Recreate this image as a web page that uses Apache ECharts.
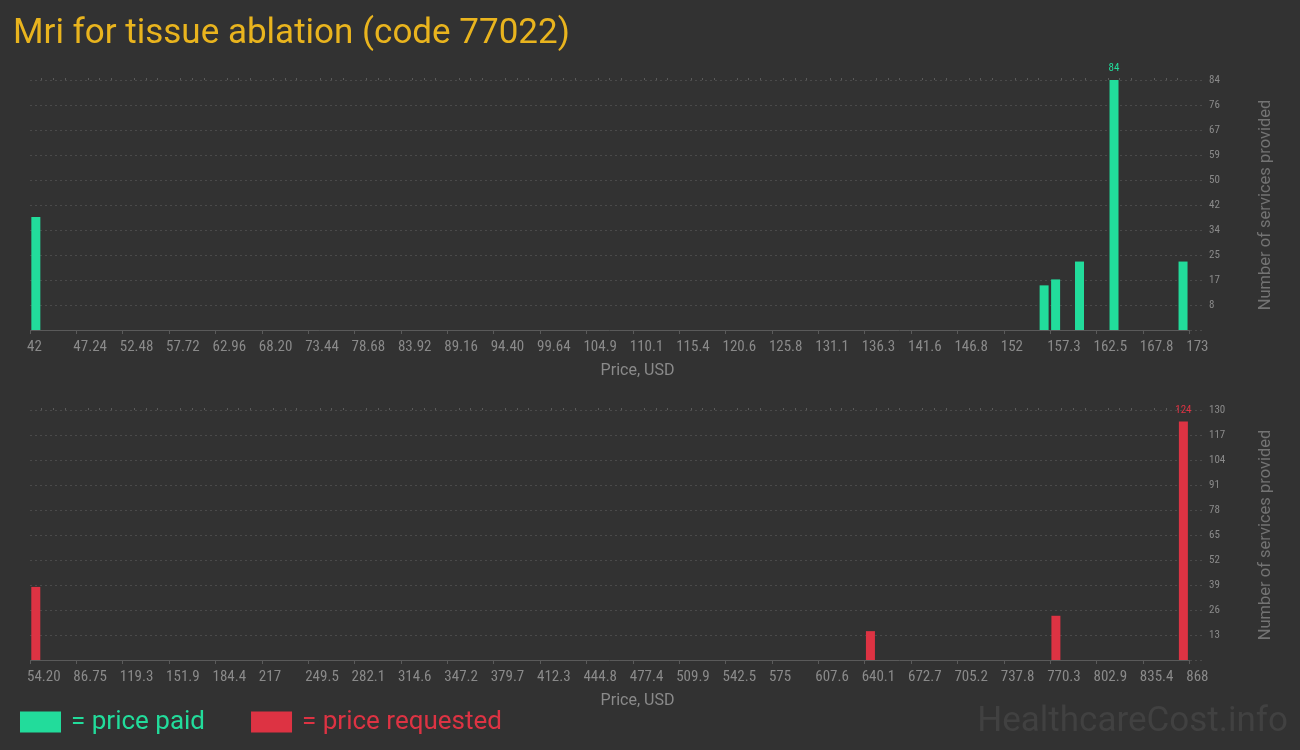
<!DOCTYPE html>
<html>
<head>
<meta charset="utf-8">
<title>Mri for tissue ablation (code 77022)</title>
<script src="https://cdn.jsdelivr.net/npm/echarts@6/dist/echarts.min.js"></script>
<style>
  html, body { margin: 0; padding: 0; background: #323232; }
  #chart { width: 1300px; height: 750px; }
</style>
</head>
<body>
<div id="chart"></div>
<script>
// Price axis tick labels (26 ticks, evenly spaced)
const paidTickLabels = ["42", "47.24", "52.48", "57.72", "62.96", "68.20", "73.44", "78.68", "83.92", "89.16",
  "94.40", "99.64", "104.9", "110.1", "115.4", "120.6", "125.8", "131.1", "136.3", "141.6",
  "146.8", "152", "157.3", "162.5", "167.8", "173"];
const requestedTickLabels = ["54.20", "86.75", "119.3", "151.9", "184.4", "217", "249.5", "282.1", "314.6", "347.2",
  "379.7", "412.3", "444.8", "477.4", "509.9", "542.5", "575", "607.6", "640.1", "672.7",
  "705.2", "737.8", "770.3", "802.9", "835.4", "868"];

// Price paid: bin price (USD) and number of services
const paidPrices = [42.66, 156.6, 157.9, 160.6, 164.5, 172.3];
const paidCounts = [38, 15, 17, 23, 84, 23];

// Price requested: bin price (USD) and number of services
const requestedPrices = [58.27, 644.2, 774.4, 863.9];
const requestedCounts = [38, 15, 23, 124];

// Upper bound of each count axis
const paidCountMax = 84;
const requestedCountMax = 130;

const GREEN = '#22dc9b';
const RED = '#dd3343';
const AXIS_GREY = '#5a5a5a';
const LABEL_GREY = '#8a8a8a';
const NARROW = "'Roboto Condensed', 'Liberation Sans Narrow', 'DejaVu Sans Condensed', Roboto, sans-serif";

// The price axis runs in tick units (0..25); the grid reaches a bit past the last tick
const X_END = 25.34;
const majorTicks = Array.from({ length: 26 }, (_, i) => i);
const minorTicks = [];
for (let i = 0; i < 25; i++) for (let k = 1; k < 4; k++) minorTicks.push(i + k / 4);

function priceScale(labels) {
  const lo = parseFloat(labels[0]);
  const step = (parseFloat(labels[labels.length - 1]) - lo) / (labels.length - 1);
  return p => (p - lo) / step;
}

function priceAxes(gridIndex, labels) {
  return [{
    type: 'value', gridIndex, min: 0, max: X_END,
    axisLine: { show: false },
    splitLine: { show: false },
    axisTick: { show: true, customValues: majorTicks, length: 4, lineStyle: { color: AXIS_GREY } },
    axisLabel: {
      customValues: majorTicks,
      formatter: v => labels[Math.round(v)],
      align: 'left', margin: 10, padding: [0, 0, 0, -3],
      color: LABEL_GREY, fontFamily: NARROW, fontSize: 15
    },
    name: 'Price, USD', nameLocation: 'middle', nameGap: 33,
    nameTextStyle: { color: LABEL_GREY, fontFamily: 'Roboto', fontSize: 16, padding: [0, 0, 0, 40] }
  }, {
    type: 'value', gridIndex, min: 0, max: X_END,
    axisLine: { show: false }, splitLine: { show: false }, axisLabel: { show: false },
    axisTick: { show: true, customValues: minorTicks, length: 2, lineStyle: { color: AXIS_GREY } }
  }];
}

function countAxis(gridIndex, max) {
  return {
    type: 'value', gridIndex, position: 'right', min: 0, max, interval: max / 10,
    axisLine: { show: false }, axisTick: { show: false },
    splitLine: { show: true, lineStyle: { color: '#4a4a4a', type: [2, 3], width: 1 } },
    axisLabel: {
      margin: 4, color: LABEL_GREY, fontFamily: NARROW, fontSize: 11,
      formatter: v => (v === 0 ? '' : String(Math.round(v)))
    },
    name: 'Number of services provided', nameLocation: 'middle', nameRotate: 90, nameGap: 52,
    nameTextStyle: { color: '#737373', fontFamily: 'Roboto', fontSize: 16.5 }
  };
}

function histogram(name, axisIndex, labels, prices, counts, color) {
  const toX = priceScale(labels);
  const peak = Math.max(...counts);
  return {
    type: 'bar', name, xAxisIndex: axisIndex * 2, yAxisIndex: axisIndex,
    barWidth: 9, itemStyle: { color },
    data: prices.map((p, i) => ({
      value: [toX(p), counts[i]],
      label: counts[i] === peak
        ? { show: true, position: 'top', distance: 6, color, fontFamily: NARROW, fontSize: 11 }
        : { show: false }
    })),
    markLine: {
      silent: true, symbol: ['none', 'none'], label: { show: false },
      lineStyle: { color: AXIS_GREY, type: 'solid', width: 1 },
      emphasis: { disabled: true },
      data: [[{ coord: [0, 0] }, { coord: [25, 0] }]]
    }
  };
}

const chart = echarts.init(document.getElementById('chart'), null, { renderer: 'canvas' });

chart.setOption({
  backgroundColor: '#323232',
  animation: false,
  title: {
    text: 'Mri for tissue ablation (code 77022)',
    left: 13, top: 17, padding: 0,
    textStyle: { color: '#e9b41e', fontSize: 35, fontFamily: 'Roboto', fontWeight: 'normal' }
  },
  legend: {
    left: 20, top: 709, padding: 0, icon: 'rect', itemWidth: 41, itemHeight: 21, itemGap: 46,
    selectedMode: false, formatter: '= {name}',
    textStyle: { fontSize: 26, fontFamily: 'Roboto', padding: [0, 0, 0, 5] },
    data: [
      { name: 'price paid', textStyle: { color: GREEN } },
      { name: 'price requested', textStyle: { color: RED } }
    ]
  },
  grid: [
    { left: 30, top: 80, width: 1175, height: 250 },
    { left: 30, top: 410, width: 1175, height: 250 }
  ],
  xAxis: [...priceAxes(0, paidTickLabels), ...priceAxes(1, requestedTickLabels)],
  yAxis: [countAxis(0, paidCountMax), countAxis(1, requestedCountMax)],
  series: [
    histogram('price paid', 0, paidTickLabels, paidPrices, paidCounts, GREEN),
    histogram('price requested', 1, requestedTickLabels, requestedPrices, requestedCounts, RED)
  ],
  graphic: [{
    type: 'text', right: 12, bottom: 10,
    style: { text: 'HealthcareCost.info', font: '35px Roboto', fill: '#414141' }
  }]
});
</script>
</body>
</html>
